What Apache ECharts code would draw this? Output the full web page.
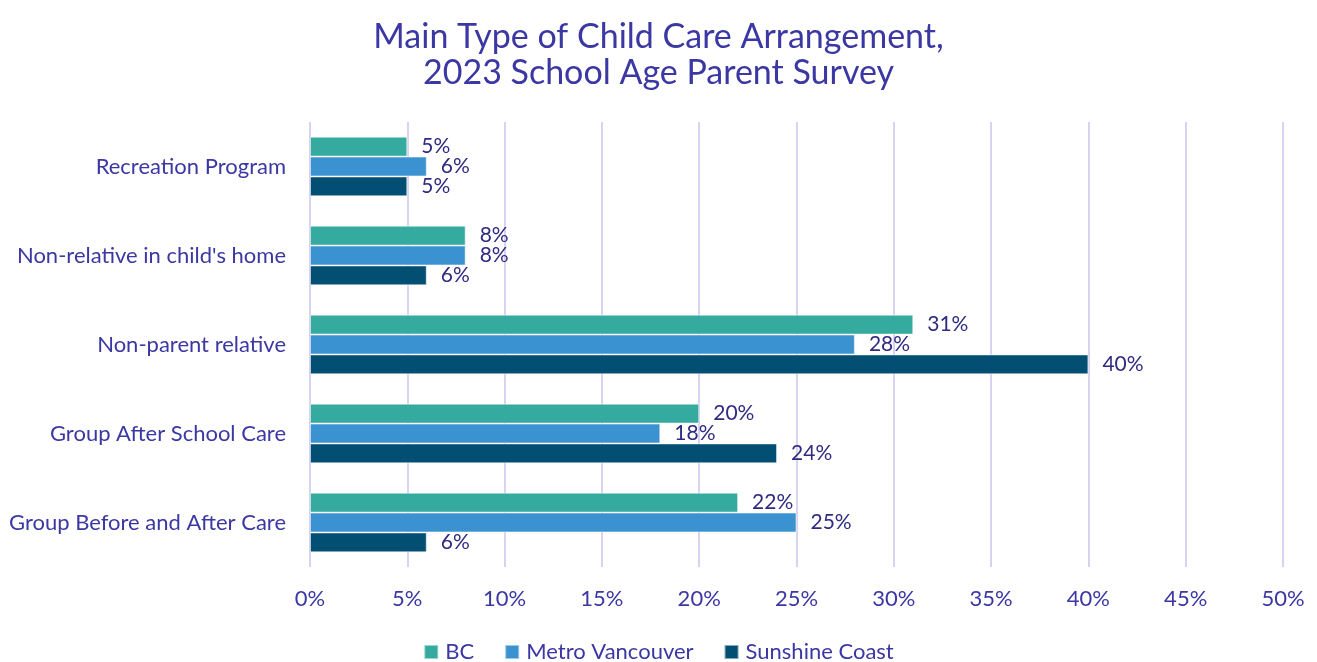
<!DOCTYPE html>
<html>
<head>
    <meta charset="utf-8" />
    <title>Main Type of Child Care Arrangement</title>
    <script src="https://cdn.jsdelivr.net/npm/echarts@6/dist/echarts.min.js"></script>
    <style>
        html, body { margin: 0; padding: 0; background: #fff; }
        #chart { width: 1317px; height: 662px; }
    </style>
</head>
<body>
    <div id="chart"></div>
    <script type="text/javascript">
        var categories = ['Recreation Program', "Non-relative in child's home", 'Non-parent relative', 'Group After School Care', 'Group Before and After Care'];
        var bcValues = [5, 8, 31, 20, 22];
        var metroValues = [6, 8, 28, 18, 25];
        var sunshineValues = [5, 6, 40, 24, 6];
        var xTicks = [0, 5, 10, 15, 20, 25, 30, 35, 40, 45, 50];

        var textColor = '#3B37A3';
        var font = 'Lato';

        function barSeries(name, data, color) {
            return {
                name: name,
                type: 'bar',
                data: data,
                barGap: '0%',
                barCategoryGap: '33%',
                itemStyle: { color: color, borderColor: 'rgba(255,255,255,0.5)', borderWidth: 1 },
                label: {
                    show: true,
                    position: 'right',
                    distance: 14,
                    formatter: '{c}%',
                    color: '#2F2B80',
                    fontSize: 21,
                    fontFamily: font
                }
            };
        }

        var myChart = echarts.init(document.getElementById('chart'));
        myChart.setOption({
            animation: false,
            title: {
                text: 'Main Type of Child Care Arrangement,\n2023 School Age Parent Survey',
                left: 'center',
                top: 14,
                textStyle: { color: textColor, fontSize: 34, fontWeight: 'normal', fontFamily: font, lineHeight: 36 }
            },
            legend: {
                top: 636,
                left: 'center',
                itemWidth: 14,
                itemHeight: 14,
                itemGap: 30,
                icon: 'rect',
                textStyle: { color: textColor, fontSize: 22, fontFamily: font, padding: [0, 0, 0, 2] }
            },
            grid: { left: 310, right: 34, top: 122, bottom: 95 },
            xAxis: {
                type: 'value',
                min: xTicks[0],
                max: xTicks[xTicks.length - 1],
                interval: 5,
                axisLine: { show: false },
                axisTick: { show: false },
                splitLine: { lineStyle: { color: '#D8D3F0', width: 2 } },
                axisLabel: { color: textColor, fontSize: 22, fontFamily: font, margin: 21, formatter: '{value}%' }
            },
            yAxis: {
                type: 'category',
                data: categories,
                inverse: true,
                axisLine: { show: false },
                axisTick: { show: false },
                axisLabel: { color: textColor, fontSize: 22, fontFamily: font, margin: 24 }
            },
            series: [
                barSeries('BC', bcValues, '#35ABA0'),
                barSeries('Metro Vancouver', metroValues, '#3A92D0'),
                barSeries('Sunshine Coast', sunshineValues, '#034F73')
            ]
        });
    </script>
</body>
</html>
